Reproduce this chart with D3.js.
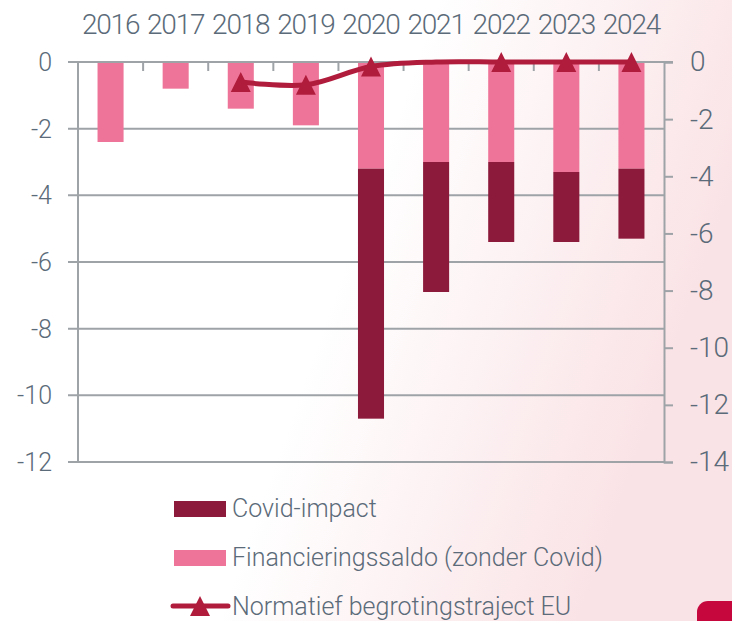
<!DOCTYPE html>
<html>
<head>
<meta charset="utf-8">
<script src="https://cdn.jsdelivr.net/npm/d3@7"></script>
<style>
  html, body { margin: 0; padding: 0; }
  body { width: 732px; height: 621px; overflow: hidden; }
  text { font-family: Roboto, "Open Sans", sans-serif; font-weight: 300; fill: #5b6b79; }
</style>
</head>
<body>
<svg id="canvas" width="732" height="621"></svg>
<script>
// chart data
let years = ['2016', '2017', '2018', '2019', '2020', '2021', '2022', '2023', '2024']
let saldo = [-2.4, -0.8, -1.4, -1.9, -3.2, -3.0, -3.0, -3.3, -3.2]      // Financieringssaldo (zonder Covid)
let covid = [0, 0, 0, 0, -7.5, -3.9, -2.4, -2.1, -2.1]                  // Covid-impact
let normEU = [null, null, -0.7, -0.8, -0.16, 0, 0, 0, 0]                // Normatief begrotingstraject EU (right axis)
let markerYears = ['2018', '2019', '2020', '2022', '2023', '2024']
let leftTicks = [0, -2, -4, -6, -8, -10, -12]
let rightTicks = [0, -2, -4, -6, -8, -10, -12, -14]
let legendLabels = ['Covid-impact', 'Financieringssaldo (zonder Covid)', 'Normatief begrotingstraject EU']

let pink = '#ee7599'
let dark = '#8c1a3b'
let lineCol = '#b01c3c'
let gridCol = '#9ea3a8'

let svg = d3.select('#canvas')

// background: white fading into pale pink on the right
let defs = svg.append('defs')
let grad = defs.append('linearGradient').attr('id', 'bg')
    .attr('x1', '0').attr('y1', '0').attr('x2', '1').attr('y2', '0.3')
grad.append('stop').attr('offset', '0.55').attr('stop-color', '#ffffff')
grad.append('stop').attr('offset', '1').attr('stop-color', '#fae3e6')
svg.append('rect').attr('width', 732).attr('height', 621).attr('fill', 'url(#bg)')

let pLeft = 78, pRight = 664, pTop = 62, pBottom = 462

let x = d3.scaleBand().domain(years).range([pLeft, pRight]).paddingInner(0.6).paddingOuter(0.3)
let yL = d3.scaleLinear().domain([-12, 0]).range([pBottom, pTop])
let yR = d3.scaleLinear().domain([-14, 0]).range([pBottom, pTop])

// gridlines (incl. outward ticks on the left)
svg.append('g').selectAll('line')
    .data(leftTicks)
    .enter()
    .append('line')
    .attr('x1', pLeft - 10).attr('x2', pRight)
    .attr('y1', d => yL(d)).attr('y2', d => yL(d))
    .attr('stroke', gridCol).attr('stroke-width', 2)

// left axis labels
svg.append('g').selectAll('text')
    .data(leftTicks)
    .enter()
    .append('text')
    .attr('x', 52).attr('y', d => yL(d))
    .attr('dy', '0.36em')
    .attr('text-anchor', 'end')
    .style('font-size', '25px')
    .text(d => d)

// right axis
let rAxis = d3.axisRight(yR).tickValues(rightTicks).tickSize(9).tickPadding(17).tickFormat(d => d)
let rg = svg.append('g').attr('transform', 'translate(' + pRight + ',0)').call(rAxis)
rg.select('.domain').attr('stroke', gridCol).attr('stroke-width', 2)
rg.selectAll('.tick line').attr('stroke', gridCol).attr('stroke-width', 2)
rg.selectAll('.tick text').style('font-size', '28px').attr('fill', null)

// stacked bars
let bars = svg.append('g')
bars.selectAll('rect.saldo')
    .data(years)
    .enter()
    .append('rect')
    .attr('class', 'saldo')
    .attr('x', d => x(d))
    .attr('width', x.bandwidth())
    .attr('y', yL(0))
    .attr('height', (d, i) => yL(saldo[i]) - yL(0))
    .attr('fill', pink)

bars.selectAll('rect.covid')
    .data(years)
    .enter()
    .append('rect')
    .attr('class', 'covid')
    .attr('x', d => x(d))
    .attr('width', x.bandwidth())
    .attr('y', (d, i) => yL(saldo[i]))
    .attr('height', (d, i) => yL(saldo[i] + covid[i]) - yL(saldo[i]))
    .attr('fill', dark)

// left axis line + top axis line with category ticks
svg.append('line')
    .attr('x1', pLeft).attr('x2', pLeft).attr('y1', pTop).attr('y2', pBottom + 1)
    .attr('stroke', gridCol).attr('stroke-width', 2)
svg.append('line')
    .attr('x1', pLeft - 10).attr('x2', pRight + 9).attr('y1', pTop).attr('y2', pTop)
    .attr('stroke', gridCol).attr('stroke-width', 2)
svg.append('g').selectAll('line')
    .data(years.slice(1))
    .enter()
    .append('line')
    .attr('x1', d => x(d) - (x.step() - x.bandwidth()) / 2)
    .attr('x2', d => x(d) - (x.step() - x.bandwidth()) / 2)
    .attr('y1', pTop).attr('y2', pTop + 9)
    .attr('stroke', gridCol).attr('stroke-width', 2)

// year labels on top
svg.append('g').selectAll('text')
    .data(years)
    .enter()
    .append('text')
    .attr('x', d => x(d) + x.bandwidth() / 2)
    .attr('y', 34)
    .attr('text-anchor', 'middle')
    .style('font-size', '28px')
    .style('letter-spacing', '-1.2px')
    .text(d => d)

// EU line
let cx = d => x(d) + x.bandwidth() / 2
let linePts = years.map((d, i) => [d, normEU[i]]).filter(p => p[1] !== null)
let lineGen = d3.line()
    .x(p => cx(p[0]))
    .y(p => yR(p[1]))
    .curve(d3.curveCatmullRom.alpha(0.5))
svg.append('path')
    .datum(linePts)
    .attr('d', lineGen)
    .attr('fill', 'none')
    .attr('stroke', lineCol)
    .attr('stroke-width', 5)

let tri = 'M0,-10L10,10L-10,10Z'
svg.append('g').selectAll('path')
    .data(linePts.filter(p => markerYears.includes(p[0])))
    .enter()
    .append('path')
    .attr('d', tri)
    .attr('transform', p => 'translate(' + cx(p[0]) + ',' + yR(p[1]) + ')')
    .attr('fill', lineCol)

// legend
let lg = svg.append('g')
lg.append('rect').attr('x', 174).attr('y', 501).attr('width', 52).attr('height', 16).attr('fill', dark)
lg.append('rect').attr('x', 174).attr('y', 550).attr('width', 52).attr('height', 16).attr('fill', pink)
lg.append('line').attr('x1', 173).attr('x2', 228).attr('y1', 606).attr('y2', 606)
    .attr('stroke', lineCol).attr('stroke-width', 5).attr('stroke-linecap', 'round')
lg.append('path').attr('d', tri).attr('transform', 'translate(200,606)').attr('fill', lineCol)
lg.selectAll('text')
    .data(legendLabels)
    .enter()
    .append('text')
    .attr('x', 232)
    .attr('y', (d, i) => 517 + i * 49)
    .style('font-size', '25px')
    .text(d => d)

// page decoration bottom right
svg.append('rect').attr('x', 697).attr('y', 601).attr('width', 60).attr('height', 40).attr('rx', 11)
    .attr('fill', '#c5073e')
</script>
</body>
</html>
